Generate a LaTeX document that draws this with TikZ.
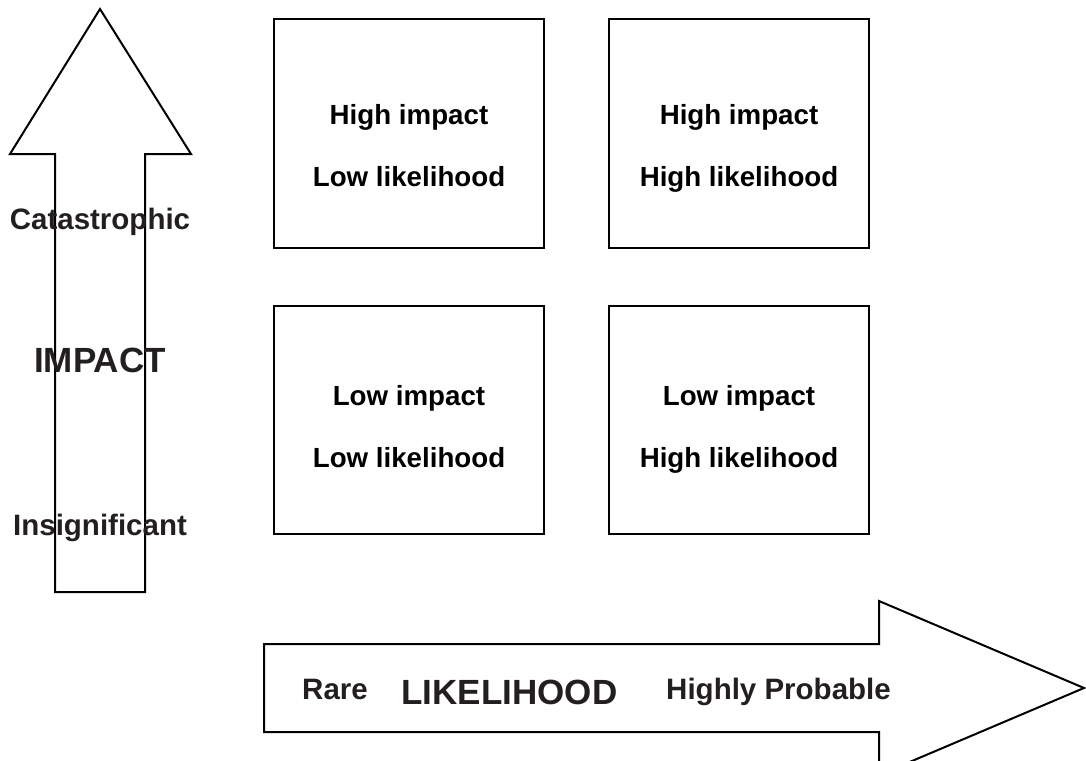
\documentclass[tikz,border=0pt]{standalone}
\usepackage{fontspec}
\setmainfont{Liberation Sans}
\usetikzlibrary{calc,positioning}
\definecolor{inkgray}{HTML}{231F20}

\begin{document}
\begin{tikzpicture}[
    x=1pt,y=-1pt,
    line width=2pt,
    quad/.style={draw,minimum width=270pt,minimum height=229pt,inner sep=0pt},
    quadw/.style={quad,minimum width=260pt},
    celltext/.style={anchor=base,inner sep=0pt,font=\bfseries\fontsize{27.7}{30}\selectfont},
    axislabel/.style={anchor=base,inner sep=0pt,text=inkgray,font=\bfseries\fontsize{29.5}{32}\selectfont},
    axistitle/.style={axislabel,font=\bfseries\fontsize{35}{38}\selectfont},
    arrowshape/.style={draw,line join=miter},
  ]

  \useasboundingbox (0,0) rectangle (1086,760);
  \clip (0,0) rectangle (1086,760);

  % impact arrow

  \draw[arrowshape] (55,592) -- (55,154) -- (10,154) -- (100,9) -- (191,154)
    -- (145,154) -- (145,592) -- cycle;

  \node (cat) at (100,229) [axislabel] {Catastrophic};
  \node (imp) at (100,372) [axistitle] {IMPACT};
  \node (ins) at (100,535) [axislabel] {Insignificant};

  % likelihood arrow

  \draw[arrowshape] (264,644) -- (879,644) -- (879,601) -- (1084,688) -- (879,775)
    -- (879,732) -- (264,732) -- cycle;

  \node (rare) at (335,699) [axislabel] {Rare};
  \node (lik) at (509.5,704) [axistitle] {LIKELIHOOD};
  \node (prob) at (778.5,699) [axislabel] {Highly Probable};

  % quadrants

  \node (b1) at (409,133.5) [quad] {};
  \node (b2) at (739,133.5) [quadw] {};
  \node (b3) at (409,420) [quad,minimum height=228pt] {};
  \node (b4) at (739,420) [quadw,minimum height=228pt] {};

  \node (t1a) at ($(b1.north)+(0,106)$) [celltext] {High impact};
  \node (t1b) at ($(b1.north)+(0,168)$) [celltext] {Low likelihood};

  \node (t2a) at ($(b2.north)+(0,106)$) [celltext] {High impact};
  \node (t2b) at ($(b2.north)+(0,168)$) [celltext] {High likelihood};

  \node (t3a) at ($(b3.north)+(0,100)$) [celltext] {Low impact};
  \node (t3b) at ($(b3.north)+(0,162)$) [celltext] {Low likelihood};

  \node (t4a) at ($(b4.north)+(0,100)$) [celltext] {Low impact};
  \node (t4b) at ($(b4.north)+(0,162)$) [celltext] {High likelihood};

\end{tikzpicture}
\end{document}
